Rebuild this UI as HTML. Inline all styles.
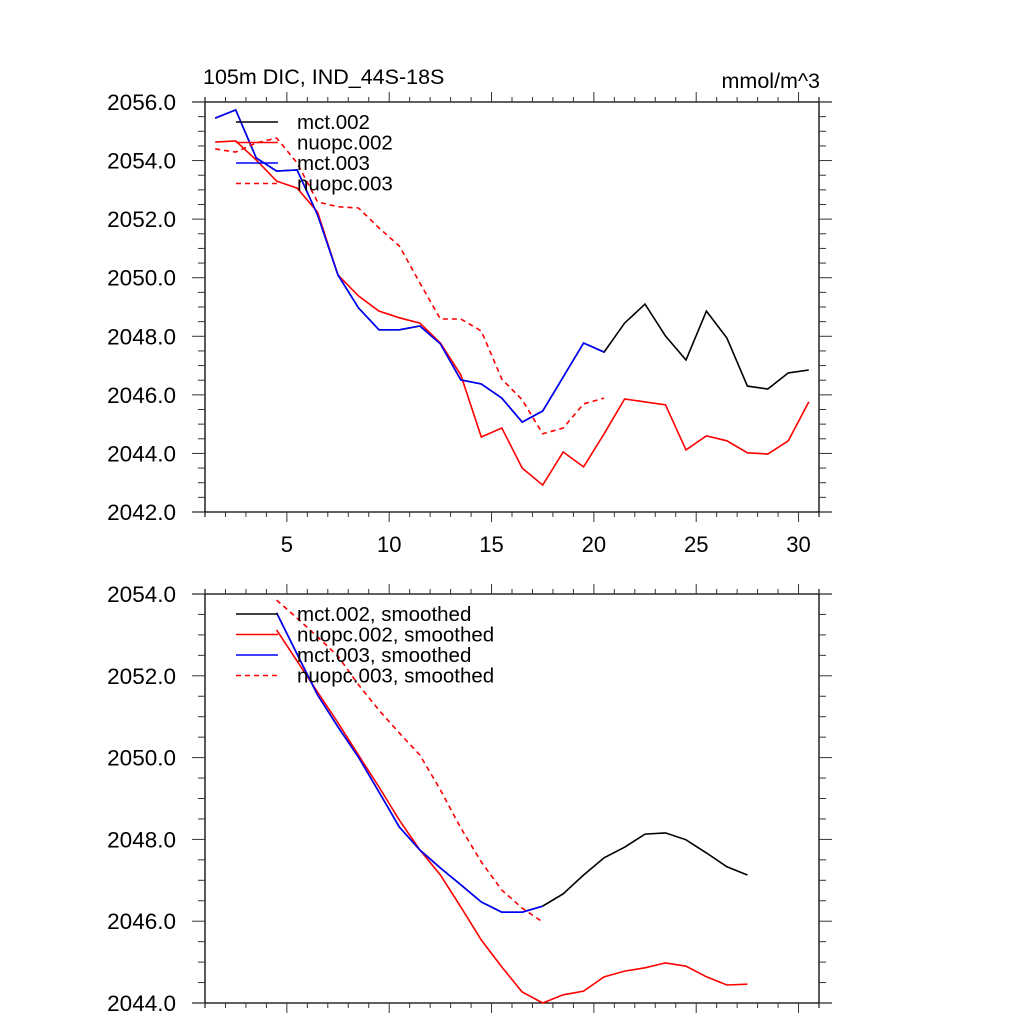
<!DOCTYPE html>
<html><head><meta charset="utf-8"><style>
html,body{margin:0;padding:0;background:#fff;}
svg{display:block;font-family:"Liberation Sans",sans-serif;}
</style></head><body>
<svg id="chart" width="1024" height="1024" xmlns="http://www.w3.org/2000/svg"></svg>
<script>
const months = [1,2,3,4,5,6,7,8,9,10,11,12,13,14,15,16,17,18,19,20,21,22,23,24,25,26,27,28,29,30];
const mct002 = [2055.45,2055.73,2054.09,2053.64,2053.68,2052.14,2050.09,2048.97,2048.22,2048.22,2048.35,2047.74,2046.51,2046.37,2045.89,2045.07,2045.45,2046.61,2047.77,2047.46,2048.45,2049.10,2048.01,2047.19,2048.86,2047.94,2046.30,2046.20,2046.75,2046.85];
const nuopc002 = [2054.63,2054.67,2054.02,2053.30,2053.06,2052.24,2050.09,2049.38,2048.86,2048.63,2048.45,2047.77,2046.68,2044.56,2044.87,2043.50,2042.92,2044.05,2043.54,2044.67,2045.86,2045.76,2045.66,2044.12,2044.60,2044.43,2044.02,2043.98,2044.43,2045.76];
const mct003 = [2055.45,2055.73,2054.09,2053.64,2053.68,2052.14,2050.09,2048.97,2048.22,2048.22,2048.35,2047.74,2046.51,2046.37,2045.89,2045.07,2045.45,2046.61,2047.77,2047.46];
const nuopc003 = [2054.40,2054.29,2054.60,2054.77,2053.92,2052.59,2052.42,2052.38,2051.70,2051.08,2049.82,2048.59,2048.59,2048.18,2046.54,2045.83,2044.67,2044.87,2045.69,2045.89];
const smMonths = [4,5,6,7,8,9,10,11,12,13,14,15,16,17,18,19,20,21,22,23,24,25,26,27];
const mct002s = [2053.54,2052.53,2051.53,2050.75,2050.01,2049.16,2048.30,2047.74,2047.30,2046.89,2046.47,2046.22,2046.22,2046.37,2046.67,2047.13,2047.55,2047.81,2048.13,2048.16,2047.99,2047.67,2047.33,2047.13];
const nuopc002s = [2053.12,2052.36,2051.60,2050.85,2050.06,2049.28,2048.47,2047.74,2047.13,2046.35,2045.54,2044.88,2044.27,2044.00,2044.20,2044.29,2044.64,2044.78,2044.86,2044.98,2044.90,2044.64,2044.44,2044.46];
const mct003s = [2053.54,2052.53,2051.53,2050.75,2050.01,2049.16,2048.30,2047.74,2047.30,2046.89,2046.47,2046.22,2046.22,2046.37];
const nuopc003s = [2053.85,2053.41,2052.95,2052.48,2051.78,2051.16,2050.60,2050.06,2049.21,2048.28,2047.45,2046.76,2046.32,2045.98];
const xTickLabels = [5,10,15,20,25,30];
const topYTicks = [2042,2044,2046,2048,2050,2052,2054,2056];
const botYTicks = [2044,2046,2048,2050,2052,2054];

const NS="http://www.w3.org/2000/svg";
const svg=document.getElementById('chart');
function mk(tag,attrs,parent){const e=document.createElementNS(NS,tag);for(const k in attrs)e.setAttribute(k,attrs[k]);(parent||svg).appendChild(e);return e;}
const L=205,R=819,U=(R-L)/30;
function xs(v){return L+(v-0.5)*U;}
function xt(v){return L+(v-1)*U;}

function panel(name,top,bot,ymin,ymax,yt,showX){
  const g=mk('g',{});
  
  
  const ys=v=>bot-(v-ymin)*(bot-top)/(ymax-ymin);
  mk('line',{x1:192,y1:top,x2:832,y2:top,stroke:'#000','stroke-width':1.3},g);
  mk('line',{x1:192,y1:bot,x2:832,y2:bot,stroke:'#000','stroke-width':1.3},g);
  mk('line',{x1:L,y1:top-5,x2:L,y2:bot+5,stroke:'#000','stroke-width':1.3},g);
  mk('line',{x1:R,y1:top-5,x2:R,y2:bot+5,stroke:'#000','stroke-width':1.3},g);
  for(let v=1;v<=31;v++){
    const x=xt(v);
    const maj=v%5===0, len=maj?10:5;
    mk('line',{x1:x,y1:top,x2:x,y2:top-len,stroke:'#333','stroke-width':1},g);
    mk('line',{x1:x,y1:bot,x2:x,y2:bot+len,stroke:'#333','stroke-width':1},g);
  }
  if(showX){xTickLabels.forEach(v=>{const t=mk('text',{x:xt(v),y:bot+40,'font-size':22,'text-anchor':'middle'},g);t.textContent=v;
    });}
  for(let v=ymin;v<=ymax+1e-9;v+=0.5){
    const y=ys(v), maj=Math.abs(v-Math.round(v/2)*2)<1e-6;
    const len=maj?13:7;
    mk('line',{x1:L,y1:y,x2:L-len,y2:y,stroke:'#333','stroke-width':1},g);
    mk('line',{x1:R,y1:y,x2:R+len,y2:y,stroke:'#333','stroke-width':1},g);
  }
  yt.forEach(v=>{const t=mk('text',{x:176,y:ys(v)+8,'font-size':22.5,'text-anchor':'end'},g);t.textContent=v.toFixed(1);
    });
  return {g,ys};
}
function series(p,name,xsArr,vals,color,dash){
  const pts=vals.map((v,i)=>xs(xsArr[i]).toFixed(1)+','+p.ys(v).toFixed(1)).join(' ');
  const pl=mk('polyline',{points:pts,fill:'none',stroke:color,'stroke-width':1.6,'stroke-dasharray':dash?'5,4':'none'},p.g);
  
  
}
function legend(p,items,y0){
  items.forEach((it,i)=>{
    const y=y0+i*20.5;
    const ln=mk('line',{x1:236,y1:y,x2:278,y2:y,stroke:it[1],'stroke-width':1.6,'stroke-dasharray':it[2]?'5,4':'none'},p.g);
    
    const t=mk('text',{x:297,y:y+7,'font-size':20.5},p.g);t.textContent=it[0];
    
  });
}
const p1=panel('top-panel',102,512,2042,2056,topYTicks,true);
series(p1,'mct002-line',months,mct002,'#000',false);
series(p1,'nuopc002-line',months,nuopc002,'#f00',false);
series(p1,'mct003-line',months.slice(0,mct003.length),mct003,'#00f',false);
series(p1,'nuopc003-line',months.slice(0,nuopc003.length),nuopc003,'#f00',true);
legend(p1,[['mct.002','#000'],['nuopc.002','#f00'],['mct.003','#00f'],['nuopc.003','#f00',true]],122);
const p2=panel('bottom-panel',594,1003,2044,2054,botYTicks,false);
series(p2,'mct002-smoothed-line',smMonths,mct002s,'#000',false);
series(p2,'nuopc002-smoothed-line',smMonths,nuopc002s,'#f00',false);
series(p2,'mct003-smoothed-line',smMonths.slice(0,mct003s.length),mct003s,'#00f',false);
series(p2,'nuopc003-smoothed-line',smMonths.slice(0,nuopc003s.length),nuopc003s,'#f00',true);
legend(p2,[['mct.002, smoothed','#000'],['nuopc.002, smoothed','#f00'],['mct.003, smoothed','#00f'],['nuopc.003, smoothed','#f00',true]],614);
const t1=mk('text',{x:203,y:84,'font-size':21.5});t1.textContent='105m DIC, IND_44S-18S';

const t2=mk('text',{x:820,y:88,'font-size':21.5,'text-anchor':'end'});t2.textContent='mmol/m^3';

</script>
</body></html>
